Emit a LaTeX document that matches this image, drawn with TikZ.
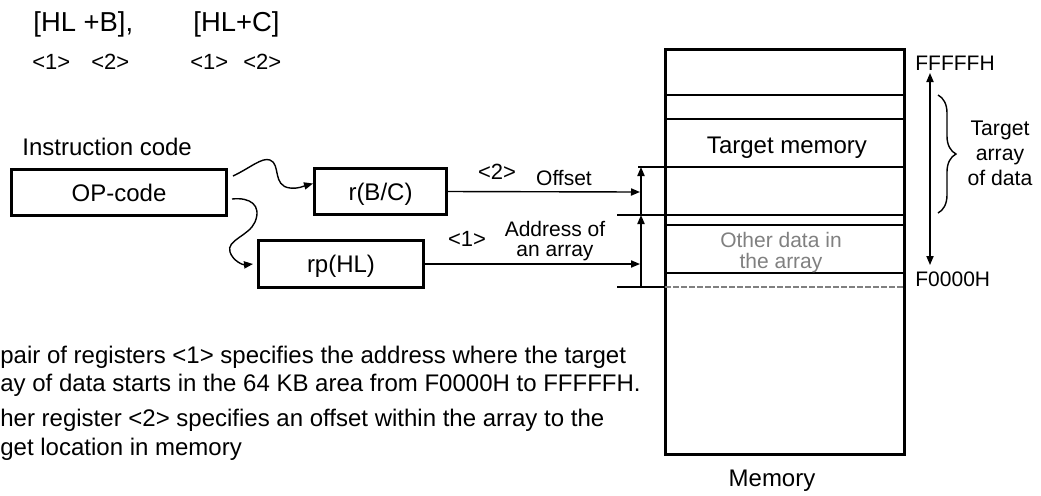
\documentclass[tikz,border=0pt]{standalone}
\usepackage{fontspec}
\setmainfont{Liberation Sans}
\usetikzlibrary{arrows.meta, positioning, decorations.pathreplacing}

\begin{document}
\begin{tikzpicture}[
    x=0.5pt, y=-0.5pt,
    regbox/.style={rectangle, draw=black, line width=1.5pt, inner sep=0pt, text depth=0pt, minimum height=23pt, font=\fontsize{12}{14}\selectfont},
    txt/.style={inner sep=0pt, text depth=0pt, font=\fontsize{12}{14}\selectfont},
    small/.style={inner sep=0pt, text depth=0pt, align=center, font=\fontsize{10.5}{10.5}\selectfont},
    tag/.style={inner sep=0pt, text depth=0pt, font=\fontsize{11}{13}\selectfont},
    arrow/.style={-{Triangle[length=4.5pt, width=3.6pt]}, line width=0.7pt},
    memline/.style={line width=0.8pt},
    memthick/.style={line width=1.3pt}
]
    \useasboundingbox (0,0) rectangle (1041,495);
    \clip (0,0) rectangle (1041,495);

    % Addressing forms
    \node (hlb) [txt, anchor=west, font=\fontsize{13.7}{16}\selectfont] at (33,22) {[HL +B],};
    \node (hlc) [txt, anchor=west, font=\fontsize{13.7}{16}\selectfont] at (193,22) {[HL+C]};
    \node (b1) [tag, anchor=west] at (32,62) {<1>};
    \node (b2) [tag, anchor=west] at (91,62) {<2>};
    \node (c1) [tag, anchor=west] at (190,62) {<1>};
    \node (c2) [tag, anchor=west] at (243,62) {<2>};

    % Instruction and registers
    \node (opcode) [regbox, minimum width=107.5pt] at (119,192.5) {OP-code};
    \node (instr) [txt, anchor=west] at (22,147) {Instruction code};
    \node (rbc) [regbox, minimum width=66pt] at (380.5,191.5) {r(B/C)};
    \node (rphl) [regbox, minimum width=82.5pt, minimum height=23.5pt] at (341,264) {rp(HL)};

    % Memory
    \node (mem) [draw, line width=1.5pt, minimum width=119.5pt, minimum height=202.5pt, inner sep=0pt] at (785,252) {};
    \node (memlbl) [txt, below=7pt of mem, xshift=-6.5pt] {Memory};
    \foreach \ly in {95,119} \draw[memline] (665,\ly) -- (905,\ly);
    \foreach \ly in {225,273} \draw[memthick] (665,\ly) -- (905,\ly);
    \draw[memline] (638,167) -- (905,167);
    \draw[memline] (617,215) -- (905,215);
    \draw[memline] (617,287) -- (665,287);
    \draw[gray, line width=0.8pt, dash pattern=on 3pt off 1pt] (665,287) -- (905,287);
    \node (tgt) [txt] at (787,145) {Target memory};
    \node (other) [small, text=gray] at (781,250) {Other data in\\the array};

    % Address range
    \node (ffh) [small, anchor=west] at (915,63) {FFFFFH};
    \node (f0h) [small, anchor=west] at (915,279) {F0000H};
    \coordinate (rtop) at (930,73);
    \coordinate (rbot) at (930,265);
    \draw [{Triangle[length=4.5pt, width=3.6pt]}-{Triangle[length=4.5pt, width=3.6pt]}, line width=0.6pt] (rtop) -- (rbot);
    \coordinate (brtop) at (938,95);
    \coordinate (brbot) at (938,213);
    \draw [decorate, decoration={brace, amplitude=9pt}, line width=0.7pt] (brtop) -- (brbot);
    \node (tarr) [small, font=\fontsize{10.6}{12.5}\selectfont] at (1000,153) {Target\\array\\of data};

    % Offset and address arrows
    \node (l2) [tag] at (497,172) {<2>};
    \node (off) [small] at (564,178) {Offset};
    \node (l1) [tag] at (467,239) {<1>};
    \node (addr) [small, font=\fontsize{10.5}{10}\selectfont] at (555,239) {Address of\\an array};
    \coordinate (offend) at (640,192);
    \coordinate (addrend) at (640,264);
    \draw [arrow] (rbc.east) -- (offend);
    \draw [arrow] (rphl.east) -- (addrend);
    \coordinate (ybase) at (641,287);
    \coordinate (ymid) at (641,215);
    \coordinate (ytop) at (641,167);
    \draw [arrow] (ybase) -- (ymid);
    \draw [arrow] (ymid) -- (ytop);

    % Curved arrows from the OP-code
    \draw [arrow] ([xshift=2.5pt, yshift=8.25pt]opcode.east) .. controls (250,168) and (262,157) .. (270,160) .. controls (281,164) and (272,186) .. (290,188) .. controls (298,189) and (304,186) .. ([yshift=4pt]rbc.west);
    \draw [arrow] ([xshift=2pt, yshift=-3.25pt]opcode.east) .. controls (250,197) and (262,205) .. (255,222) .. controls (249,236) and (226,240) .. (230,252) .. controls (233,261) and (243,265) .. ([xshift=-2pt]rphl.west);

    % Notes
    \node (n1) [txt, anchor=base west] at (0,363) {pair of registers <1> specifies the address where the target};
    \node (n2) [txt, anchor=base west] at (0,391) {ay of data starts in the 64 KB area from F0000H to FFFFFH.};
    \node (n3) [txt, anchor=base west] at (0,426) {her register <2> specifies an offset within the array to the};
    \node (n4) [txt, anchor=base west] at (0,455) {get location in memory};
\end{tikzpicture}
\end{document}
